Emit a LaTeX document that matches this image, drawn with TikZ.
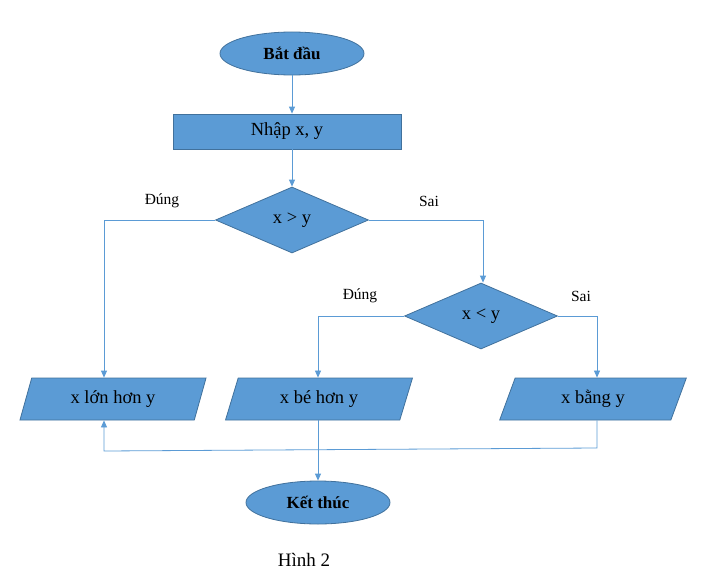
\documentclass[tikz,border=0pt]{standalone}
\usepackage{fontspec}
\setmainfont{Liberation Serif}
\usetikzlibrary{shapes.geometric,arrows.meta}
\definecolor{boxfill}{HTML}{5B9BD5}
\definecolor{boxline}{HTML}{41719C}
\definecolor{conn}{HTML}{5B9BD5}
\tikzset{
  base/.style={fill=boxfill, draw=boxline, line width=0.8pt, font=\fontsize{18.5}{22}\selectfont, inner sep=0pt},
  term/.style={base, ellipse, minimum width=144pt, minimum height=43pt, font=\fontsize{17}{20}\selectfont\bfseries},
  procbox/.style={base, rectangle, minimum width=228pt, minimum height=35pt},
  decide/.style={base, diamond, minimum width=153pt, minimum height=66pt},
  iobox/.style={base, trapezium, trapezium left angle=70, trapezium right angle=110, trapezium stretches=true, minimum width=188pt, minimum height=42pt},
  conline/.style={draw=conn, line width=0.8pt},
  arr/.style={conline, -{Triangle[width=6pt,length=7pt]}},
  lbl/.style={font=\fontsize{15.5}{18}\selectfont, inner sep=0pt}
}
\begin{document}
\begin{tikzpicture}[x=1pt,y=-1pt]
\useasboundingbox (0,0) rectangle (701,578);
\node[term] (start) at (292,53.5) {Bắt đầu};
\node[procbox] (input) at (287,131.5) {Nhập x, y};
\node[decide] (d1) at (292,220) {x > y};
\node[decide] (d2) at (481,316) {x < y};
\node[iobox] (big) at (113,399) {x lớn hơn y};
\node[iobox] (small) at (319,399) {x bé hơn y};
\node[iobox] (equal) at (593,399) {x bằng y};
\node[term] (stop) at (318,502.5) {Kết thúc};
\node[font=\fontsize{19}{22}\selectfont, inner sep=0pt] (cap) at (304,560) {Hình 2};

\node[lbl] (l1) at (162,201) {Đúng};
\node[lbl] (l2) at (429,201) {Sai};
\node[lbl] (l3) at (360,296) {Đúng};
\node[lbl] (l4) at (581,296) {Sai};

\coordinate (c1) at (104,220);
\coordinate (c2) at (483,220);
\coordinate (c3) at (318,316);
\coordinate (c4) at (597,316);
\coordinate (c5) at (597,448);
\coordinate (c6) at (104,451);

\draw[arr] (start.south) -- (start.south |- input.north);
\draw[arr] (input.south -| d1.north) -- (d1.north);
\draw[arr] (d1.west) -- (c1) -- (c1 |- big.north);
\draw[arr] (d1.east) -- (c2) -- (c2 |- d2.north);
\draw[arr] (d2.west) -- (c3) -- (c3 |- small.north);
\draw[arr] (d2.east) -- (c4) -- (c4 |- equal.north);
\draw[arr] (c3 |- small.south) -- (c3 |- stop.north);
\draw[arr] (c4 |- equal.south) -- (c5) -- (c6) -- (c6 |- big.south);
\end{tikzpicture}
\end{document}
